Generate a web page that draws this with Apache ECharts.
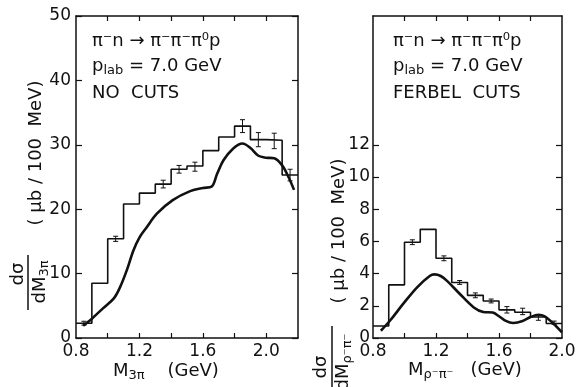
<!DOCTYPE html>
<html>
<head>
<meta charset="utf-8">
<script src="https://cdn.jsdelivr.net/npm/echarts@6/dist/echarts.min.js"></script>
<style>
  html, body { margin: 0; padding: 0; background: #fff; }
  #chart { width: 580px; height: 387px; }
</style>
</head>
<body>
<div id="chart"></div>
<script>
// ---- data ----
// left panel: M(3pi), no cuts. bins of 0.1 GeV from 0.8
const leftBinStart = 0.8;
const binWidth = 0.1;
const leftHist = [2.3, 8.5, 15.4, 20.8, 22.5, 23.9, 26.2, 26.7, 29.1, 31.2, 32.9, 30.8, 30.7, 25.3];
// [x, y, err]
const leftErr = [
    [0.85, 2.3, 0.3], [1.05, 15.4, 0.4], [1.35, 23.9, 0.6], [1.45, 26.2, 0.6],
    [1.55, 26.6, 0.7], [1.85, 32.9, 1.0], [1.95, 30.8, 1.1], [2.05, 30.6, 1.2],
    [2.15, 25.3, 0.9],
];
const leftCurve = [
    [0.845, 1.9], [0.9, 3.0], [0.97, 4.6], [1.04, 6.2], [1.078, 7.9], [1.12, 10.5],
    [1.162, 13.6], [1.2, 15.6], [1.246, 17.2], [1.31, 19.3], [1.41, 21.4], [1.52, 22.8],
    [1.6, 23.3], [1.655, 23.5], [1.69, 25.5], [1.73, 27.6], [1.79, 29.4], [1.85, 30.2],
    [1.9, 29.5], [1.95, 28.3], [2.0, 28.0], [2.05, 27.9], [2.1, 26.8], [2.14, 25.0],
    [2.175, 23.0],
];

// right panel: M(rho- pi-), Ferbel cuts
const rightBinStart = 0.8;
const rightHist = [0.75, 3.3, 5.95, 6.75, 4.95, 3.45, 2.65, 2.3, 1.75, 1.6, 1.3, 0.9];
const rightErr = [
    [1.05, 5.95, 0.15], [1.25, 4.95, 0.15], [1.35, 3.45, 0.12], [1.45, 2.65, 0.15],
    [1.55, 2.3, 0.12], [1.65, 1.75, 0.2], [1.75, 1.65, 0.2], [1.85, 1.25, 0.15],
    [1.95, 0.95, 0.1],
];
const rightCurve = [
    [0.85, 0.45], [0.91, 1.1], [0.99, 2.1], [1.08, 3.15], [1.16, 3.85], [1.19, 3.95],
    [1.23, 3.85], [1.27, 3.55], [1.35, 2.75], [1.44, 1.9], [1.5, 1.62], [1.56, 1.58],
    [1.6, 1.35], [1.64, 1.08], [1.69, 0.93], [1.75, 1.05], [1.8, 1.3], [1.85, 1.44],
    [1.89, 1.35], [1.94, 0.95], [2.0, 0.35],
];

// ticks / labels
const xLabelVals = [0.8, 1.2, 1.6, 2.0];
const xTickValsLeft = [1.0, 1.2, 1.4, 1.6, 1.8, 2.0];
const xTickValsRight = [1.0, 1.2, 1.4, 1.6, 1.8];
const yTickValsLeft = [0, 10, 20, 30, 40, 50];
const yTickValsRight = [0, 2, 4, 6, 8, 10, 12];

const FONT = '"DejaVu Sans", sans-serif';
const INK = '#111';

function histPoints(start, width, vals) {
    const pts = [];
    vals.forEach((v, i) => {
        const a = +(start + i * width).toFixed(3);
        const b = +(a + width).toFixed(3);
        pts.push([a, v], [b, v]);
    });
    return pts;
}

function errorBars(params, api) {
    const x = api.value(0), y = api.value(1), e = api.value(2);
    const hi = api.coord([x, y + e]);
    const lo = api.coord([x, y - e]);
    const cap = 2.5;
    const st = { stroke: INK, lineWidth: 1 };
    return {
        type: 'group',
        children: [
            { type: 'line', shape: { x1: hi[0], y1: hi[1], x2: lo[0], y2: lo[1] }, style: st },
            { type: 'line', shape: { x1: hi[0] - cap, y1: hi[1], x2: hi[0] + cap, y2: hi[1] }, style: st },
            { type: 'line', shape: { x1: lo[0] - cap, y1: lo[1], x2: lo[0] + cap, y2: lo[1] }, style: st },
        ],
    };
}

const axLine = { show: true, onZero: false, lineStyle: { color: INK, width: 1.5 } };
const axLabel = { color: INK, fontFamily: FONT, fontSize: 17 };

function xAxisPair(gridIndex, min, max, ticks) {
    return [
        {
            type: 'value', gridIndex, min, max, position: 'bottom',
            axisLine: axLine, splitLine: { show: false },
            axisTick: { show: true, inside: true, length: 5, customValues: ticks, lineStyle: { color: INK, width: 1.2 } },
            axisLabel: { ...axLabel, margin: 5, customValues: xLabelVals, formatter: (v) => v.toFixed(1) },
        },
        {
            type: 'value', gridIndex, min, max, position: 'top',
            axisLine: axLine, splitLine: { show: false },
            axisTick: { show: true, inside: true, length: 5, customValues: ticks, lineStyle: { color: INK, width: 1.2 } },
            axisLabel: { show: false },
        },
    ];
}

function yAxisPair(gridIndex, min, max, ticks, labelMargin) {
    return [
        {
            type: 'value', gridIndex, min, max, position: 'left',
            axisLine: axLine, splitLine: { show: false },
            axisTick: { show: true, inside: true, length: 6, customValues: ticks, lineStyle: { color: INK, width: 1.2 } },
            axisLabel: { ...axLabel, margin: labelMargin, customValues: ticks },
        },
        {
            type: 'value', gridIndex, min, max, position: 'right',
            axisLine: axLine, splitLine: { show: false },
            axisTick: { show: true, inside: true, length: 6, customValues: ticks, lineStyle: { color: INK, width: 1.2 } },
            axisLabel: { show: false },
        },
    ];
}

const rich = {
    m: { fontFamily: FONT, fontSize: 18, color: INK },
    s: { fontFamily: FONT, fontSize: 13, color: INK, padding: [9, 0, 0, 0] },
};

function label(x, y, text, extra) {
    return {
        type: 'text', x, y,
        style: Object.assign({ text, rich, fontFamily: FONT, fontSize: 18, fill: INK, align: 'left', verticalAlign: 'middle' }, extra || {}),
    };
}

function vlabel(x, y, text) {
    return {
        type: 'text', x, y, rotation: Math.PI / 2,
        style: { text, rich, fontFamily: FONT, fontSize: 18, fill: INK, align: 'center', verticalAlign: 'middle' },
    };
}

const chart = echarts.init(document.getElementById('chart'));
chart.setOption({
    backgroundColor: '#fff',
    animation: false,
    grid: [
        { left: 76, top: 16, width: 222, height: 322 },
        { left: 373, top: 16, width: 189, height: 322 },
    ],
    xAxis: [
        ...xAxisPair(0, 0.8, 2.2, xTickValsLeft),
        ...xAxisPair(1, 0.8, 2.0, xTickValsRight),
    ],
    yAxis: [
        ...yAxisPair(0, 0, 50, yTickValsLeft, 5),
        ...yAxisPair(1, 0, 20, yTickValsRight, 3),
    ],
    series: [
        {
            type: 'line', xAxisIndex: 0, yAxisIndex: 0, symbol: 'none',
            data: histPoints(leftBinStart, binWidth, leftHist),
            lineStyle: { color: INK, width: 1.6 },
        },
        {
            type: 'custom', xAxisIndex: 0, yAxisIndex: 0, renderItem: errorBars,
            data: leftErr,
        },
        {
            type: 'line', xAxisIndex: 0, yAxisIndex: 0, symbol: 'none', smooth: 0.35,
            data: leftCurve,
            lineStyle: { color: INK, width: 2.6 },
        },
        {
            type: 'line', xAxisIndex: 2, yAxisIndex: 2, symbol: 'none',
            data: histPoints(rightBinStart, binWidth, rightHist),
            lineStyle: { color: INK, width: 1.6 },
        },
        {
            type: 'custom', xAxisIndex: 2, yAxisIndex: 2, renderItem: errorBars,
            data: rightErr,
        },
        {
            type: 'line', xAxisIndex: 2, yAxisIndex: 2, symbol: 'none', smooth: 0.35,
            data: rightCurve,
            lineStyle: { color: INK, width: 2.6 },
        },
    ],
    graphic: [
        // panel annotations
        label(92, 41, '{m|π⁻n → π⁻π⁻π⁰p}'),
        label(92, 66, '{m|p}{s|lab}{m| = 7.0 GeV}'),
        label(92, 93, '{m|NO  CUTS}'),
        label(393, 41, '{m|π⁻n → π⁻π⁻π⁰p}'),
        label(393, 66, '{m|p}{s|lab}{m| = 7.0 GeV}'),
        label(393, 93, '{m|FERBEL  CUTS}'),
        // x axis titles
        label(113, 371, '{m|M}{s|3π}{m|    (GeV)}'),
        label(408, 370, '{m|M}{s|ρ⁻π⁻}{m|   (GeV)}'),
        // y axis titles
        vlabel(36, 153, '{m|( μb / 100  MeV)}'),
        vlabel(18, 274, '{m|dσ}'),
        { type: 'line', shape: { x1: 28, y1: 255, x2: 28, y2: 310 }, style: { stroke: INK, lineWidth: 1.5 } },
        vlabel(40, 282, '{m|dM}{s|3π}'),
        vlabel(339, 231, '{m|( μb / 100  MeV)}'),
        vlabel(321, 367, '{m|dσ}'),
        { type: 'line', shape: { x1: 332, y1: 326, x2: 332, y2: 390 }, style: { stroke: INK, lineWidth: 1.5 } },
        vlabel(343, 362, '{m|dM}{s|ρ⁻π⁻}'),
    ],
});
</script>
</body>
</html>
